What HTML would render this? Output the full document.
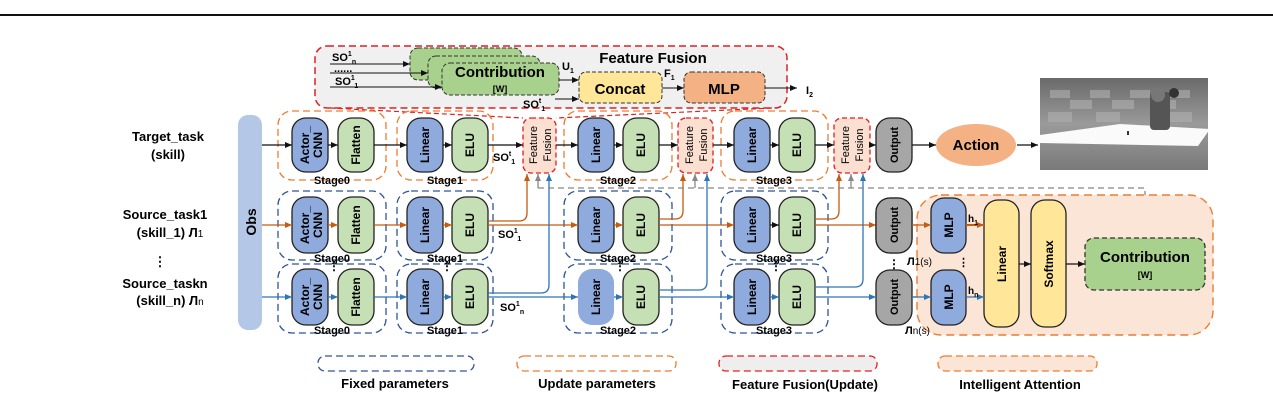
<!DOCTYPE html>
<html><head><meta charset="utf-8"><style>
html,body{margin:0;padding:0;background:#fff;}
svg{display:block;font-family:"Liberation Sans",Arial,sans-serif;font-weight:bold;}
</style></head><body>
<svg width="1273" height="420" viewBox="0 0 1273 420" xmlns="http://www.w3.org/2000/svg">
<defs>
<marker id="ak" markerWidth="8" markerHeight="8" refX="7" refY="4" orient="auto" markerUnits="userSpaceOnUse"><path d="M0,1 L7,4 L0,7z" fill="#111"/></marker>
<marker id="ao" markerWidth="8" markerHeight="8" refX="7" refY="4" orient="auto" markerUnits="userSpaceOnUse"><path d="M0,1 L7,4 L0,7z" fill="#c55a11"/></marker>
<marker id="ab" markerWidth="8" markerHeight="8" refX="7" refY="4" orient="auto" markerUnits="userSpaceOnUse"><path d="M0,1 L7,4 L0,7z" fill="#2e75b6"/></marker>
<marker id="ag" markerWidth="8" markerHeight="8" refX="7" refY="4" orient="auto" markerUnits="userSpaceOnUse"><path d="M0,1 L7,4 L0,7z" fill="#888"/></marker>
<linearGradient id="sky" x1="0" y1="0" x2="0" y2="1"><stop offset="0" stop-color="#6a6a6a"/><stop offset="0.5" stop-color="#9a9a9a"/><stop offset="1" stop-color="#7a7a7a"/></linearGradient>
</defs>
<line x1="0" y1="15" x2="1273" y2="15" stroke="#111" stroke-width="2"/>

<!-- Feature Fusion panel -->
<rect x="315" y="46" width="472" height="62" rx="12" fill="#f0f0f0" stroke="#e02020" stroke-width="1.5" stroke-dasharray="7,4"/>
<path d="M330,108 L523,118 M772,108 L556,118" stroke="#e02020" stroke-width="1.2" stroke-dasharray="5,3" fill="none"/>
<text x="653" y="63" font-size="15" text-anchor="middle">Feature Fusion</text>
<rect x="410" y="48" width="112" height="32" rx="8" fill="#a9d18e" stroke="#333" stroke-dasharray="4,2"/>
<rect x="428" y="56" width="112" height="32" rx="8" fill="#a9d18e" stroke="#333" stroke-dasharray="4,2"/>
<rect x="442" y="63" width="117" height="32" rx="8" fill="#a9d18e" stroke="#333" stroke-dasharray="4,2"/>
<text x="500" y="77" font-size="15" text-anchor="middle">Contribution</text>
<text x="500" y="92" font-size="9" text-anchor="middle">[W]</text>
<text x="332" y="61" font-size="11">SO<tspan font-size="7" dy="-5">1</tspan><tspan font-size="7" dy="8">n</tspan></text>
<text x="334" y="72" font-size="11">......</text>
<text x="335" y="85" font-size="11">SO<tspan font-size="7" dy="-5">1</tspan><tspan font-size="7" dy="8">1</tspan></text>
<line x1="330" y1="64" x2="410" y2="64" stroke="#111" marker-end="url(#ak)"/>
<line x1="330" y1="73" x2="428" y2="73" stroke="#111" marker-end="url(#ak)"/>
<line x1="330" y1="87" x2="442" y2="87" stroke="#111" marker-end="url(#ak)"/>
<text x="562" y="70" font-size="11">U<tspan font-size="7" dy="3">1</tspan></text>
<line x1="559" y1="80" x2="579" y2="80" stroke="#111" marker-end="url(#ak)"/>
<text x="523" y="108" font-size="11">SO<tspan font-size="7" dy="-5">t</tspan><tspan font-size="7" dy="8">1</tspan></text>
<line x1="555" y1="99" x2="579" y2="99" stroke="#111" marker-end="url(#ak)"/>
<rect x="579" y="72" width="83" height="31" rx="7" fill="#ffe699" stroke="#333" stroke-dasharray="4,2"/>
<text x="620" y="94" font-size="15" text-anchor="middle">Concat</text>
<text x="664" y="77" font-size="11">F<tspan font-size="7" dy="3">1</tspan></text>
<line x1="662" y1="88" x2="684" y2="88" stroke="#111" marker-end="url(#ak)"/>
<rect x="684" y="72" width="81" height="31" rx="7" fill="#f4b183" stroke="#333" stroke-dasharray="4,2"/>
<text x="724" y="94" font-size="15" text-anchor="middle">MLP</text>
<line x1="765" y1="88" x2="797" y2="88" stroke="#111" marker-end="url(#ak)"/>
<text x="806" y="94" font-size="11">I<tspan font-size="7" dy="3">2</tspan></text>

<!-- Left labels -->
<g font-size="13" text-anchor="middle">
<text x="168" y="141">Target_task</text><text x="168" y="159">(skill)</text>
<text x="165" y="219">Source_task1</text><text x="170" y="237">(skill_1) Л<tspan font-size="10" font-weight="normal">1</tspan></text>
<text x="160" y="266">⋮</text>
<text x="165" y="288">Source_taskn</text><text x="170" y="305">(skill_n) Л<tspan font-size="10" font-weight="normal">n</tspan></text>
</g>

<!-- Obs bar -->
<rect x="238" y="115" width="24" height="215" rx="10" fill="#b4c7e7"/>
<text transform="translate(256,222) rotate(-90)" font-size="14" text-anchor="middle">Obs</text>

<!-- Stage groups -->
<g fill="none" stroke-width="1.3" stroke-dasharray="7,4">
<g stroke="#ed7d31">
<rect x="278" y="111" width="108" height="69" rx="14"/><rect x="397" y="111" width="96" height="69" rx="14"/>
<rect x="564" y="111" width="108" height="69" rx="14"/><rect x="721" y="111" width="107" height="69" rx="14"/>
</g>
<g stroke="#2f5597">
<rect x="278" y="191" width="108" height="69" rx="14"/><rect x="397" y="191" width="96" height="69" rx="14"/>
<rect x="564" y="191" width="108" height="69" rx="14"/><rect x="721" y="191" width="107" height="69" rx="14"/>
<rect x="278" y="264" width="108" height="69" rx="14"/><rect x="397" y="264" width="96" height="69" rx="14"/>
<rect x="564" y="264" width="108" height="69" rx="14"/><rect x="721" y="264" width="107" height="69" rx="14"/>
</g>
</g>
<g font-size="11" text-anchor="middle">
<text x="332" y="184">Stage0</text><text x="445" y="184">Stage1</text><text x="618" y="184">Stage2</text><text x="774" y="184">Stage3</text>
<text x="332" y="262">Stage0</text><text x="445" y="262">Stage1</text><text x="618" y="262">Stage2</text><text x="774" y="262">Stage3</text>
<text x="332" y="334">Stage0</text><text x="445" y="334">Stage1</text><text x="618" y="334">Stage2</text><text x="774" y="334">Stage3</text>
</g>
<g font-size="12" text-anchor="middle">
<text x="334" y="270">⋮</text><text x="447" y="270">⋮</text><text x="620" y="270">⋮</text><text x="776" y="270">⋮</text>
<text x="894" y="268">⋮</text>
</g>

<!-- Rows of boxes -->
<g stroke="#222" stroke-width="1.3">
<!-- row1 -->
<rect x="292" y="118" width="36" height="54" rx="14" fill="#8faadc"/><rect x="338" y="118" width="36" height="54" rx="14" fill="#c5e0b4"/>
<rect x="407" y="118" width="36" height="54" rx="14" fill="#8faadc"/><rect x="452" y="118" width="36" height="54" rx="14" fill="#c5e0b4"/>
<rect x="578" y="118" width="36" height="54" rx="14" fill="#8faadc"/><rect x="623" y="118" width="36" height="54" rx="14" fill="#c5e0b4"/>
<rect x="734" y="118" width="36" height="54" rx="14" fill="#8faadc"/><rect x="779" y="118" width="36" height="54" rx="14" fill="#c5e0b4"/>
<rect x="876" y="118" width="36" height="54" rx="14" fill="#a6a6a6"/>
<!-- row2 -->
<rect x="292" y="197" width="36" height="56" rx="14" fill="#8faadc"/><rect x="338" y="197" width="36" height="56" rx="14" fill="#c5e0b4"/>
<rect x="407" y="197" width="36" height="56" rx="14" fill="#8faadc"/><rect x="452" y="197" width="36" height="56" rx="14" fill="#c5e0b4"/>
<rect x="578" y="197" width="36" height="56" rx="14" fill="#8faadc"/><rect x="623" y="197" width="36" height="56" rx="14" fill="#c5e0b4"/>
<rect x="734" y="197" width="36" height="56" rx="14" fill="#8faadc"/><rect x="779" y="197" width="36" height="56" rx="14" fill="#c5e0b4"/>
<rect x="876" y="198" width="36" height="55" rx="14" fill="#a6a6a6"/>
<!-- row3 -->
<rect x="292" y="269" width="36" height="56" rx="14" fill="#8faadc"/><rect x="338" y="269" width="36" height="56" rx="14" fill="#c5e0b4"/>
<rect x="407" y="269" width="36" height="56" rx="14" fill="#8faadc"/><rect x="452" y="269" width="36" height="56" rx="14" fill="#c5e0b4"/>
<rect x="578" y="269" width="36" height="56" rx="14" fill="#8faadc" stroke="none"/><rect x="623" y="269" width="36" height="56" rx="14" fill="#c5e0b4"/>
<rect x="734" y="269" width="36" height="56" rx="14" fill="#8faadc"/><rect x="779" y="269" width="36" height="56" rx="14" fill="#c5e0b4"/>
<rect x="876" y="270" width="36" height="55" rx="14" fill="#a6a6a6"/>
</g>
<!-- Feature fusion small boxes -->
<g fill="#fbe0d2" stroke="#e02020" stroke-width="1.3" stroke-dasharray="5,3">
<rect x="523" y="118" width="33" height="55" rx="8"/><rect x="678" y="118" width="35" height="55" rx="8"/><rect x="834" y="118" width="36" height="55" rx="8"/>
</g>
<!-- box labels (rotated) -->
<g font-size="12" text-anchor="middle">
<text transform="translate(309,145) rotate(-90)">Actor_</text><text transform="translate(322,145) rotate(-90)">CNN</text>
<text transform="translate(360,145) rotate(-90)">Flatten</text>
<text transform="translate(429,145) rotate(-90)">Linear</text><text transform="translate(474,145) rotate(-90)">ELU</text>
<text transform="translate(600,145) rotate(-90)">Linear</text><text transform="translate(645,145) rotate(-90)">ELU</text>
<text transform="translate(756,145) rotate(-90)">Linear</text><text transform="translate(801,145) rotate(-90)">ELU</text>
<text transform="translate(898,145) rotate(-90)" font-size="11">Output</text>

<text transform="translate(309,225) rotate(-90)">Actor_</text><text transform="translate(322,225) rotate(-90)">CNN</text>
<text transform="translate(360,225) rotate(-90)">Flatten</text>
<text transform="translate(429,225) rotate(-90)">Linear</text><text transform="translate(474,225) rotate(-90)">ELU</text>
<text transform="translate(600,225) rotate(-90)">Linear</text><text transform="translate(645,225) rotate(-90)">ELU</text>
<text transform="translate(756,225) rotate(-90)">Linear</text><text transform="translate(801,225) rotate(-90)">ELU</text>
<text transform="translate(898,225) rotate(-90)" font-size="11">Output</text>

<text transform="translate(309,297) rotate(-90)">Actor_</text><text transform="translate(322,297) rotate(-90)">CNN</text>
<text transform="translate(360,297) rotate(-90)">Flatten</text>
<text transform="translate(429,297) rotate(-90)">Linear</text><text transform="translate(474,297) rotate(-90)">ELU</text>
<text transform="translate(600,297) rotate(-90)">Linear</text><text transform="translate(645,297) rotate(-90)">ELU</text>
<text transform="translate(756,297) rotate(-90)">Linear</text><text transform="translate(801,297) rotate(-90)">ELU</text>
<text transform="translate(898,297) rotate(-90)" font-size="11">Output</text>

<g font-size="11" font-weight="normal">
<text transform="translate(537,145) rotate(-90)">Feature</text><text transform="translate(551,145) rotate(-90)">Fusion</text>
<text transform="translate(693,145) rotate(-90)">Feature</text><text transform="translate(707,145) rotate(-90)">Fusion</text>
<text transform="translate(849,145) rotate(-90)">Feature</text><text transform="translate(863,145) rotate(-90)">Fusion</text>
</g>
</g>

<!-- Row1 arrows (black) -->
<g stroke="#111" stroke-width="1.2" marker-end="url(#ak)">
<line x1="262" y1="145" x2="292" y2="145"/><line x1="328" y1="145" x2="338" y2="145"/>
<line x1="374" y1="145" x2="407" y2="145"/><line x1="443" y1="145" x2="452" y2="145"/>
<line x1="488" y1="145" x2="523" y2="145"/><line x1="556" y1="145" x2="578" y2="145"/>
<line x1="614" y1="145" x2="623" y2="145"/><line x1="659" y1="145" x2="678" y2="145"/>
<line x1="713" y1="145" x2="734" y2="145"/><line x1="770" y1="145" x2="779" y2="145"/>
<line x1="815" y1="145" x2="834" y2="145"/><line x1="870" y1="145" x2="876" y2="145"/>
<line x1="912" y1="145" x2="936" y2="145"/><line x1="1017" y1="145" x2="1038" y2="145"/>
</g>
<text x="493" y="161" font-size="11">SO<tspan font-size="7" dy="-5">t</tspan><tspan font-size="7" dy="8">1</tspan></text>

<!-- Row2 arrows (orange) -->
<g stroke="#c55a11" stroke-width="1.3" fill="none" marker-end="url(#ao)">
<line x1="262" y1="225" x2="292" y2="225"/><line x1="328" y1="225" x2="338" y2="225"/>
<line x1="374" y1="225" x2="407" y2="225"/><line x1="443" y1="225" x2="452" y2="225"/>
<line x1="488" y1="225" x2="578" y2="225"/><line x1="614" y1="225" x2="623" y2="225"/>
<line x1="659" y1="225" x2="734" y2="225"/><line x1="815" y1="225" x2="876" y2="225"/>
<line x1="912" y1="225" x2="931" y2="225"/><line x1="966" y1="225" x2="984" y2="225"/>
<path d="M488,221 H519 Q527,221 527,213 V174"/>
<path d="M659,219 H675 Q683,219 683,211 V174"/>
<path d="M815,219 H831 Q839,219 839,211 V174"/>
</g>
<line x1="770" y1="225" x2="779" y2="225" stroke="#111" stroke-width="1.2" marker-end="url(#ak)"/>
<text x="498" y="238" font-size="11">SO<tspan font-size="7" dy="-5">1</tspan><tspan font-size="7" dy="8">1</tspan></text>

<!-- Row3 arrows (blue) -->
<g stroke="#2e75b6" stroke-width="1.3" fill="none" marker-end="url(#ab)">
<line x1="262" y1="297" x2="292" y2="297"/><line x1="328" y1="297" x2="338" y2="297"/>
<line x1="374" y1="297" x2="407" y2="297"/><line x1="443" y1="297" x2="452" y2="297"/>
<line x1="488" y1="297" x2="578" y2="297"/><line x1="614" y1="297" x2="623" y2="297"/>
<line x1="659" y1="297" x2="734" y2="297"/><line x1="770" y1="297" x2="779" y2="297"/>
<line x1="815" y1="297" x2="876" y2="297"/>
<line x1="912" y1="297" x2="931" y2="297"/><line x1="966" y1="297" x2="984" y2="297"/>
<path d="M488,293 H541 Q549,293 549,285 V174"/>
<path d="M659,290 H699 Q707,290 707,282 V174"/>
<path d="M815,287 H855 Q863,287 863,279 V174"/>
</g>
<text x="500" y="311" font-size="11">SO<tspan font-size="7" dy="-5">1</tspan><tspan font-size="7" dy="8">n</tspan></text>

<!-- Grey dashed feedback -->
<path d="M538,188 H1145 V238" stroke="#888" stroke-width="1.3" stroke-dasharray="6,4" fill="none"/>
<g stroke="#888" stroke-width="1.3" marker-end="url(#ag)">
<line x1="538" y1="188" x2="538" y2="174"/><line x1="695" y1="188" x2="695" y2="174"/><line x1="851" y1="188" x2="851" y2="174"/>
</g>

<!-- Action -->
<ellipse cx="976" cy="145" rx="40" ry="21" fill="#f4b183"/>
<text x="976" y="150" font-size="15" text-anchor="middle">Action</text>

<!-- Robot scene -->
<rect x="1040" y="78" width="168" height="92" fill="url(#sky)"/>
<g fill="#b0b0b0" opacity="0.6">
<rect x="1050" y="90" width="20" height="8"/><rect x="1090" y="90" width="20" height="8"/><rect x="1130" y="90" width="20" height="8"/><rect x="1170" y="90" width="20" height="8"/>
<rect x="1070" y="100" width="22" height="9"/><rect x="1112" y="100" width="22" height="9"/><rect x="1154" y="100" width="22" height="9"/>
<rect x="1048" y="112" width="24" height="10"/><rect x="1096" y="112" width="24" height="10"/><rect x="1168" y="112" width="24" height="10"/>
</g>
<polygon points="1040,135 1120,124 1210,129 1198,146 1040,143" fill="#fafafa"/>
<rect x="1150" y="92" width="20" height="38" rx="4" fill="#555"/>
<circle cx="1158" cy="95" r="7" fill="#777"/><circle cx="1174" cy="93" r="5" fill="#333"/>
<line x1="1128" y1="135" x2="1128" y2="131" stroke="#333" stroke-width="2"/>

<!-- Intelligent attention -->
<rect x="917" y="195" width="296" height="140" rx="24" fill="#fbe5d6" stroke="#ed7d31" stroke-width="1.4" stroke-dasharray="8,5"/>
<rect x="876" y="198" width="36" height="55" rx="14" fill="#a6a6a6" stroke="#222" stroke-width="1.3"/>
<text transform="translate(898,225) rotate(-90)" font-size="11" text-anchor="middle">Output</text>
<g stroke="#222" stroke-width="1.3">
<rect x="931" y="198" width="35" height="55" rx="13" fill="#8faadc"/>
<rect x="931" y="270" width="35" height="55" rx="13" fill="#8faadc"/>
<rect x="984" y="200" width="35" height="127" rx="14" fill="#ffe699"/>
<rect x="1031" y="200" width="35" height="127" rx="14" fill="#ffe699"/>
</g>
<line x1="912" y1="225" x2="931" y2="225" stroke="#c55a11" stroke-width="1.3" marker-end="url(#ao)"/>
<line x1="966" y1="225" x2="984" y2="225" stroke="#c55a11" stroke-width="2" marker-end="url(#ao)"/>
<line x1="912" y1="297" x2="931" y2="297" stroke="#2e75b6" stroke-width="1.3" marker-end="url(#ab)"/>
<line x1="966" y1="297" x2="984" y2="297" stroke="#2e75b6" stroke-width="1.3" marker-end="url(#ab)"/>
<g font-size="12" text-anchor="middle">
<text transform="translate(953,225) rotate(-90)">MLP</text>
<text transform="translate(953,297) rotate(-90)">MLP</text>
<text transform="translate(1006,264) rotate(-90)">Linear</text>
<text transform="translate(1053,264) rotate(-90)">Softmax</text>
</g>
<g stroke="#111" stroke-width="1.2" marker-end="url(#ak)">
<line x1="1019" y1="264" x2="1031" y2="264"/><line x1="1066" y1="264" x2="1085" y2="264"/>
</g>
<rect x="1085" y="238" width="120" height="52" rx="9" fill="#a9d18e" stroke="#333" stroke-width="1.3" stroke-dasharray="5,3"/>
<text x="1145" y="262" font-size="15" text-anchor="middle">Contribution</text>
<text x="1145" y="278" font-size="9" text-anchor="middle">[W]</text>
<text x="968" y="222" font-size="10">h<tspan font-size="7" dy="3">1</tspan></text>
<text x="968" y="294" font-size="10">h<tspan font-size="7" dy="3">n</tspan></text>
<text x="907" y="265" font-size="11">Л<tspan font-weight="normal" font-size="10">1(s)</tspan></text>
<text x="958" y="266" font-size="11">⋮</text>
<text x="905" y="334" font-size="11">Л<tspan font-weight="normal" font-size="10">n(s)</tspan></text>

<!-- Legend -->
<rect x="318" y="356" width="156" height="15" rx="7" fill="none" stroke="#2f5597" stroke-width="1.3" stroke-dasharray="7,4"/>
<rect x="517" y="356" width="159" height="15" rx="7" fill="none" stroke="#ed7d31" stroke-width="1.3" stroke-dasharray="7,4"/>
<rect x="719" y="356" width="158" height="15" rx="7" fill="#eeeeee" stroke="#e02020" stroke-width="1.3" stroke-dasharray="7,4"/>
<rect x="938" y="356" width="159" height="15" rx="7" fill="#fbe5d6" stroke="#ed7d31" stroke-width="1.3" stroke-dasharray="7,4"/>
<g font-size="13" text-anchor="middle">
<text x="395" y="388">Fixed parameters</text>
<text x="597" y="388">Update parameters</text>
<text x="805" y="389">Feature Fusion(Update)</text>
<text x="1020" y="389">Intelligent Attention</text>
</g>
</svg>
</body></html>
